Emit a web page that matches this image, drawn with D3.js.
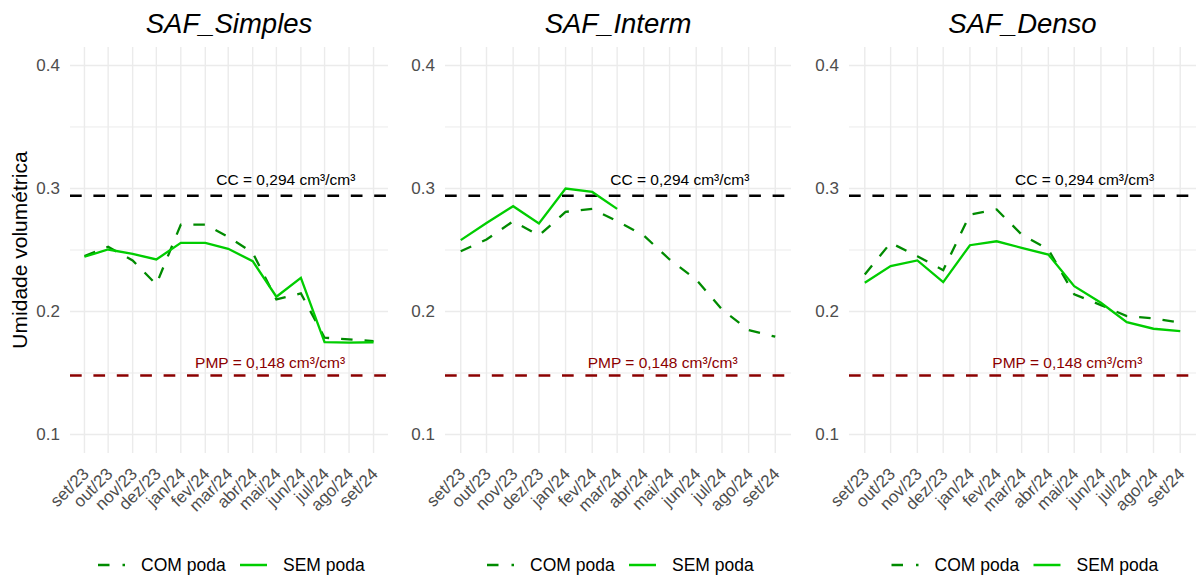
<!DOCTYPE html>
<html>
<head>
<meta charset="utf-8">
<script src="https://cdn.jsdelivr.net/npm/d3@7"></script>
<style>
  body { margin: 0; background: #fff; }
  svg { font-family: "Liberation Sans", Arial, sans-serif; }
</style>
</head>
<body>
<div id="chart"></div>
<script>
// Month labels (x axis) and series values
const monthLabels = ["set/23", "out/23", "nov/23", "dez/23", "jan/24", "fev/24", "mar/24",
                     "abr/24", "mai/24", "jun/24", "jul/24", "ago/24", "set/24"];
const panelNames = ["SAF_Simples", "SAF_Interm", "SAF_Denso"];
const seriesNames = ["COM poda", "SEM poda"];
const yTicks = [0.1, 0.2, 0.3, 0.4];
const ccValue = 0.294;
const pmpValue = 0.148;

const simplesCom = [0.245, 0.2526, 0.2415, 0.222, 0.2707, 0.2707, 0.2607, 0.2477, 0.2098, 0.2147, 0.1787, 0.1774, 0.176];
const simplesSem = [0.2445, 0.2504, 0.2469, 0.2423, 0.2558, 0.2558, 0.251, 0.2409, 0.212, 0.2274, 0.1752, 0.1747, 0.175];
const intermCom = [0.249, 0.2585, 0.2734, 0.2618, 0.281, 0.2834, 0.2734, 0.2618, 0.2423, 0.226, 0.2017, 0.1849, 0.1795];
const intermSem = [0.258, 0.272, 0.2856, 0.2715, 0.3, 0.2972, 0.2834, null, null, null, null, null, null];
const densoCom = [0.2301, 0.2558, 0.245, 0.2336, 0.2788, 0.2829, 0.2626, 0.2504, 0.214, 0.2052, 0.1963, 0.1945, 0.1909];
const densoSem = [0.2234, 0.2369, 0.2415, 0.2239, 0.2539, 0.2571, 0.2518, 0.2463, 0.2206, 0.2071, 0.1914, 0.186, 0.1841];

const dates = monthLabels.map((_, i) => new Date(2023, 8 + i, 1));

const panelsData = [
    { com: simplesCom, sem: simplesSem },
    { com: intermCom, sem: intermSem },
    { com: densoCom, sem: densoSem }
];

// layout
const width = 1200, height = 579;
const panelBox = [
    { left: 70, right: 388 },
    { left: 445, right: 791 },
    { left: 849, right: 1196 }
];
const plotTop = 47, plotBottom = 453;
const colCom = "#008B00", colSem = "#00CD00";
const greyText = "#4D4D4D", gridCol = "#EBEBEB";

const svg = d3.select("#chart").append("svg")
    .attr("width", width)
    .attr("height", height);

// y axis title
svg.append("text")
    .attr("transform", `translate(27,${(plotTop + plotBottom) / 2}) rotate(-90)`)
    .attr("text-anchor", "middle")
    .attr("font-size", 21)
    .attr("fill", "#000")
    .text("Umidade volumétrica");

panelsData.forEach((pd, p) => {
    const box = panelBox[p];
    const g = svg.append("g");

    // date scale with ggplot-like 5% expansion
    const t0 = dates[0].getTime(), t1 = dates[dates.length - 1].getTime();
    const pad = (t1 - t0) * 0.05;
    const x = d3.scaleTime()
        .domain([new Date(t0 - pad), new Date(t1 + pad)])
        .range([box.left, box.right]);

    const y = d3.scaleLinear()
        .domain([0.1 - 0.015, 0.4 + 0.015])
        .range([plotBottom, plotTop]);

    // grid: horizontal major + minor
    const hLines = [0.1, 0.15, 0.2, 0.25, 0.3, 0.35, 0.4];
    g.append("g").selectAll("line").data(hLines).enter().append("line")
        .attr("x1", box.left).attr("x2", box.right)
        .attr("y1", d => y(d)).attr("y2", d => y(d))
        .attr("stroke", gridCol)
        .attr("stroke-width", d => yTicks.includes(d) ? 1.4 : 1);

    // grid: vertical at months
    g.append("g").selectAll("line").data(dates).enter().append("line")
        .attr("x1", d => x(d)).attr("x2", d => x(d))
        .attr("y1", plotTop).attr("y2", plotBottom)
        .attr("stroke", gridCol)
        .attr("stroke-width", 1.4);

    // y axis
    const yAxis = g.append("g")
        .attr("transform", `translate(${box.left},0)`)
        .call(d3.axisLeft(y).tickValues(yTicks).tickSize(0).tickPadding(10).tickFormat(d3.format(".1f")));
    yAxis.select(".domain").remove();
    yAxis.selectAll("text")
        .attr("font-size", 17)
        .attr("fill", greyText)
        .style("font-family", "Liberation Sans, Arial, sans-serif");

    // x axis
    const xAxis = g.append("g")
        .attr("transform", `translate(0,${plotBottom})`)
        .call(d3.axisBottom(x).tickValues(dates).tickSize(0)
            .tickFormat((d, i) => monthLabels[i]));
    xAxis.select(".domain").remove();
    xAxis.selectAll("text")
        .attr("font-size", 17)
        .attr("fill", greyText)
        .style("font-family", "Liberation Sans, Arial, sans-serif")
        .attr("text-anchor", "end")
        .attr("x", 0).attr("y", 0).attr("dy", 0)
        .attr("transform", "translate(5,22) rotate(-45)");

    // reference lines
    g.append("line")
        .attr("x1", box.left).attr("x2", box.right)
        .attr("y1", y(ccValue)).attr("y2", y(ccValue))
        .attr("stroke", "#000").attr("stroke-width", 2.5)
        .attr("stroke-dasharray", "11.7,11.7");
    g.append("line")
        .attr("x1", box.left).attr("x2", box.right)
        .attr("y1", y(pmpValue)).attr("y2", y(pmpValue))
        .attr("stroke", "#8B0000").attr("stroke-width", 2.5)
        .attr("stroke-dasharray", "11.7,11.7");

    g.append("text")
        .attr("x", x(new Date(2024, 4, 13)))
        .attr("y", y(ccValue + 0.013))
        .attr("dy", "0.35em")
        .attr("text-anchor", "middle")
        .attr("font-size", 15.5)
        .attr("fill", "#000")
        .text("CC = 0,294 cm³/cm³");
    g.append("text")
        .attr("x", x(new Date(2024, 3, 23)))
        .attr("y", y(pmpValue + 0.0105))
        .attr("dy", "0.35em")
        .attr("text-anchor", "middle")
        .attr("font-size", 15.5)
        .attr("fill", "#8B0000")
        .text("PMP = 0,148 cm³/cm³");

    // lines
    const line = d3.line()
        .defined(d => d.v != null)
        .x(d => x(d.date))
        .y(d => y(d.v));

    const comPts = dates.map((d, i) => ({ date: d, v: pd.com[i] }));
    const semPts = dates.map((d, i) => ({ date: d, v: pd.sem[i] }));

    g.append("path")
        .datum(comPts)
        .attr("d", line)
        .attr("fill", "none")
        .attr("stroke", colCom)
        .attr("stroke-width", 2.3)
        .attr("stroke-dasharray", "11.5,12");

    g.append("path")
        .datum(semPts)
        .attr("d", line)
        .attr("fill", "none")
        .attr("stroke", colSem)
        .attr("stroke-width", 2.3);

    // title
    g.append("text")
        .attr("x", (box.left + box.right) / 2)
        .attr("y", 33)
        .attr("text-anchor", "middle")
        .attr("font-size", 27.5)
        .attr("font-style", "italic")
        .attr("fill", "#000")
        .text(panelNames[p]);

    // legend
    const legCenter = (box.left + box.right) / 2 + 4;
    const legStart = legCenter - 135;
    const lg = g.append("g").attr("transform", `translate(${legStart},565)`);
    const items = [
        { name: seriesNames[0], color: colCom, dash: "11.5,13", offset: 0 },
        { name: seriesNames[1], color: colSem, dash: null, offset: 142 }
    ];
    items.forEach(it => {
        lg.append("line")
            .attr("x1", it.offset).attr("x2", it.offset + 27)
            .attr("y1", 0).attr("y2", 0)
            .attr("stroke", it.color).attr("stroke-width", 2.5)
            .attr("stroke-dasharray", it.dash);
        lg.append("text")
            .attr("x", it.offset + 43)
            .attr("y", 6)
            .attr("font-size", 17.5)
            .attr("fill", "#000")
            .text(it.name);
    });
});
</script>
</body>
</html>
